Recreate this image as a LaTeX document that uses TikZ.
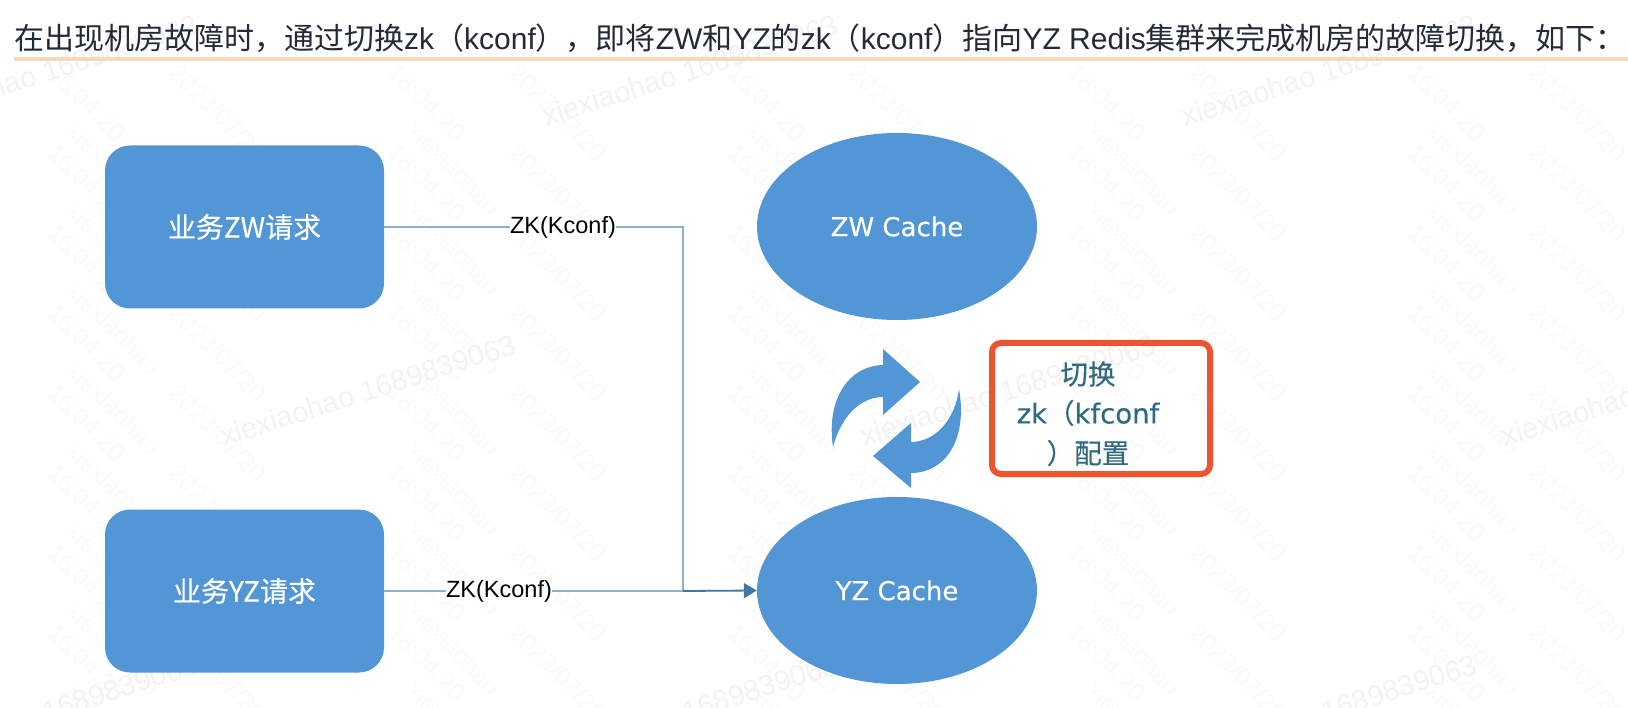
\documentclass[tikz,border=0pt]{standalone}
\usepackage{fontspec}
\setmainfont{DejaVu Sans}
\newfontfamily\headcjk{Noto Sans CJK SC}
\newfontfamily\medcjk[FakeBold=0.25]{Noto Sans CJK SC}
\newfontfamily\medlatin[FakeBold=0.25]{DejaVu Sans}
\newfontfamily\labelfont{Liberation Sans}
\newcommand{\latinrun}[1]{{\labelfont #1}}
\definecolor{cacheblue}{HTML}{5296D5}
\definecolor{wireblue}{HTML}{8FB0CC}
\definecolor{wiredark}{HTML}{3F75A3}
\definecolor{swapred}{HTML}{EE5430}
\definecolor{swaptext}{HTML}{2F6A80}
\definecolor{headline}{HTML}{F5D9BF}
\definecolor{headtext}{HTML}{242B38}
\definecolor{markgray}{HTML}{F3F3F3}
\definecolor{tilegray}{HTML}{FBFBFB}
\usetikzlibrary{shapes.geometric,arrows.meta}
\tikzset{
  reqbox/.style={draw=none,fill=cacheblue,rounded corners=25pt,minimum width=279pt,minimum height=163pt,text=white,font=\fontsize{28}{30}\selectfont\medcjk},
  cachenode/.style={ellipse,draw=none,fill=cacheblue,minimum width=280pt,minimum height=187pt,text=white,font=\fontsize{26}{30}\selectfont\medlatin},
  wirelabel/.style={fill=white,inner sep=0pt,text=black,font=\fontsize{23.5}{26}\selectfont\labelfont},
  wire/.style={draw=wireblue,line width=1.6pt},
  swaparrow/.style={fill=cacheblue,draw=none},
  swaptxt/.style={text=swaptext,font=\fontsize{27.5}{30}\selectfont},
  markname/.style={text=markgray,rotate=17.6,font=\fontsize{29}{30}\selectfont\labelfont},
  marktile/.style={text=tilegray,rotate=-45,anchor=west,inner sep=0pt,font=\fontsize{25}{26}\selectfont\labelfont},
}

\begin{document}
\begin{tikzpicture}[x=1pt,y=-1pt]
\useasboundingbox (0,0) rectangle (1628,708);
\fill [white] (0,0) rectangle (1628,708);
\foreach \col in {0,...,4} {
  \foreach \row in {0,...,7} {
    \node [marktile] (tilea\col\row) at ({52+\col*340},{68+\row*80}) {16:04:20};
    \node [marktile] (tileb\col\row) at ({72+\col*340},{126+\row*80}) {xiexiaohao};
    \node [marktile] (tilec\col\row) at ({174+\col*340},{68+\row*80}) {2023/07/20};
  }
}
\foreach \xa/\ya in {50/70,690/70,1329/70,368/390,1008/390,1649/390,50/710,690/710,1329/710} {
  \node [markname] (mark\xa\ya) at (\xa,\ya) {xiexiaohao 1689839063};
}
\node [anchor=west,inner sep=0pt,text=headtext,font=\fontsize{30}{32}\selectfont\headcjk] (headtxt) at (14,38) {在出现机房故障时，通过切换\latinrun{zk}（\latinrun{kconf}），即将\latinrun{ZW}和\latinrun{YZ}的\latinrun{zk}（\latinrun{kconf}）指向\latinrun{YZ Redis}集群来完成机房的故障切换，如下：};
\fill [headline] (14,57) rectangle (1628,61);

\node [reqbox] (zwreq) at (244.5,227) {业务ZW请求};
\node [reqbox] (yzreq) at (244.5,591) {业务YZ请求};
\node [cachenode] (zwcache) at (897,226.5) {ZW Cache};
\node [cachenode] (yzcache) at (897,590.5) {YZ Cache};

\coordinate (elbow) at (683,591);
\draw [wire] (zwreq.east) -- (683,227) -- (elbow);
\draw [wire] (yzreq.east) -- (elbow);
\draw [draw=wiredark,line width=1.8pt,-{Triangle[length=13pt,width=15pt]}] (elbow) -- (yzcache.west);
\node [wirelabel] (zwwire) at (563,227) {ZK(Kconf)};
\node [wirelabel] (yzwire) at (499,591) {ZK(Kconf)};

\fill [swaparrow] (833,447) .. controls (826,400) and (848,366) .. (883,365) -- (883,349) -- (920,382) -- (883,415) -- (883,397) .. controls (858,397) and (840,420) .. (833,447) -- cycle;
\fill [swaparrow] (959,389) .. controls (968,440) and (945,473) .. (911,473) -- (911,488) -- (873,456) -- (911,423) -- (911,442) .. controls (935,442) and (955,420) .. (959,389) -- cycle;

\node [draw=swapred,line width=6pt,rounded corners=9pt,minimum width=218pt,minimum height=131pt,inner sep=0pt] (swapbox) at (1101,408.5) {};
\node [swaptxt] (swaptxt1) at (1088,374) {\medcjk 切换};
\node [swaptxt] (swaptxt2) at (1088,413) {\medlatin zk{\medcjk （}kfconf};
\node [swaptxt] (swaptxt3) at (1088,453) {\medcjk ）配置};
\end{tikzpicture}
\end{document}
